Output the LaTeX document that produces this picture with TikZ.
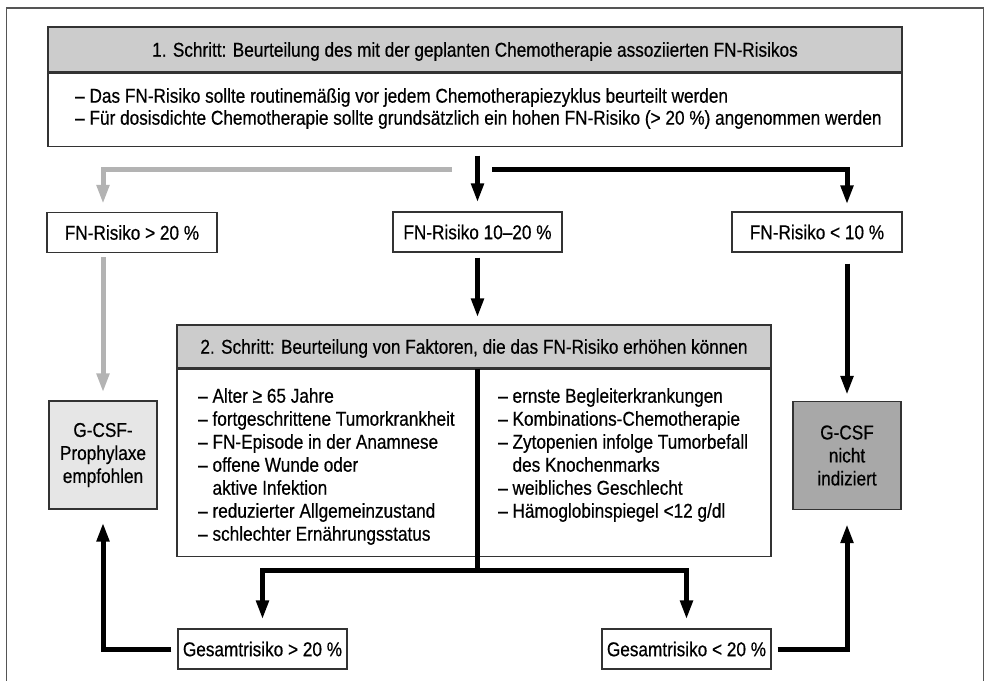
\documentclass[tikz,border=0pt]{standalone}
\usepackage{fontspec}
\setmainfont{Liberation Sans}[FakeStretch=0.86, FakeBold=0.5]
\usetikzlibrary{arrows.meta}

\definecolor{hdrgray}{HTML}{CCCCCC}
\definecolor{lightfill}{HTML}{E6E6E6}
\definecolor{darkfill}{HTML}{A8A8A8}
\definecolor{linegray}{HTML}{B3B3B3}
\definecolor{edge}{HTML}{333333}
\definecolor{framecol}{HTML}{555555}

\begin{document}
\begin{tikzpicture}[x=1pt,y=-1pt,
  txt/.style={font=\fontsize{20}{23}\selectfont},
  box/.style={txt, draw=edge, line width=1.1pt, fill=white, inner sep=0pt,
    text height=14.4pt, text depth=0pt},
  hdr/.style={box, fill=hdrgray},
  riskbox/.style={box, minimum width=169pt, minimum height=40pt},
  gcsf/.style={txt, draw=edge, line width=1.1pt, inner sep=0pt, align=center,
    minimum width=108pt, minimum height=108pt},
  listtxt/.style={txt, align=left, inner sep=0pt},
  conn/.style={line width=5pt},
  arr/.style={conn, -{Triangle[length=19pt,width=12pt]}},
  garr/.style={arr, draw=linegray},
  frame/.style={draw=framecol, line width=1.6pt}
]
\useasboundingbox (0,0) rectangle (990,680);

% outer frame
\draw[frame] (6.5,690) -- (6.5,8) -- (983.5,8) -- (983.5,690);

% step 1
\node[hdr, minimum width=854pt, minimum height=45pt] (s1h) at (475,49.5)
  {1. Schritt: Beurteilung des mit der geplanten Chemotherapie assoziierten FN-Risikos};
\node[box, anchor=north, minimum width=854pt, minimum height=73pt] (s1) at (s1h.south) {};
\node[listtxt, font=\fontsize{20}{22}\selectfont, anchor=north west] (s1t) at (75,88)
  {– Das FN-Risiko sollte routinemäßig vor jedem Chemotherapiezyklus beurteilt werden\\
   – Für dosisdichte Chemotherapie sollte grundsätzlich ein hohen FN-Risiko (> 20~\%) angenommen werden};

% risk classes
\node[riskbox, minimum width=170pt] (r1) at (132,232.5) {FN-Risiko > 20~\%};
\node[riskbox] (r2) at (477.5,232) {FN-Risiko 10–20~\%};
\node[riskbox, minimum width=170pt] (r3) at (817,232) {FN-Risiko < 10~\%};

% recommendations
\node[gcsf, fill=lightfill] (g1) at (103,455) {G-CSF-\\Prophylaxe\\empfohlen};
\node[gcsf, fill=darkfill] (g2) at (847,455.5) {G-CSF\\nicht\\indiziert};

% step 2
\node[hdr, minimum width=594pt, minimum height=43pt] (s2h) at (474,346.5)
  {2. Schritt: Beurteilung von Faktoren, die das FN-Risiko erhöhen können};
\node[box, anchor=north, minimum width=594pt, minimum height=187pt] (s2) at (s2h.south) {};
\node[listtxt, anchor=north west] (s2l) at (198,388)
  {– Alter ≥ 65 Jahre\\
   – fortgeschrittene Tumorkrankheit\\
   – FN-Episode in der Anamnese\\
   – offene Wunde oder\\
   \phantom{–~}aktive Infektion\\
   – reduzierter Allgemeinzustand\\
   – schlechter Ernährungsstatus};
\node[listtxt, anchor=north west] (s2r) at (498,388)
  {– ernste Begleiterkrankungen\\
   – Kombinations-Chemotherapie\\
   – Zytopenien infolge Tumorbefall\\
   \phantom{–~}des Knochenmarks\\
   – weibliches Geschlecht\\
   – Hämoglobinspiegel <12 g/dl};

% overall risk
\node[riskbox] (b1) at (262.5,649) {Gesamtrisiko > 20~\%};
\node[riskbox] (b2) at (686.5,649) {Gesamtrisiko < 20~\%};

% branch points
\coordinate (gsplit) at (452,169);
\coordinate (bsplit) at (492,169);
\coordinate (split) at (477.5,570);

% connectors from step 1
\draw[arr, shorten <=9pt, shorten >=9pt] (s1.south -| r2.north) -- (r2.north);
\draw[garr, shorten >=8pt] (gsplit) -| (g1.north |- r1.north);
\draw[arr, shorten >=7pt] (bsplit) -| (g2.north |- r3.north);

% connectors from the risk classes
\draw[garr, shorten <=4pt, shorten >=8pt] (r1.south -| g1.north) -- (g1.north);
\draw[arr, shorten <=5pt, shorten >=7pt] (r2.south) -- (s2h.north -| r2.south);
\draw[arr, shorten <=11pt, shorten >=6pt] (r3.south -| g2.north) -- (g2.north);

% divider of step 2 and its branches
\draw[conn] (s2h.south -| split) -- (split);
\draw[arr, shorten >=9pt] (split) -| (b1.north);
\draw[arr, shorten >=9pt] (split) -| (b2.north);

% connectors to the recommendations
\draw[arr, shorten <=6pt, shorten >=13pt] (b1.west) -| (g1.south);
\draw[arr, shorten <=6pt, shorten >=14pt] (b2.east) -| (g2.south);
\end{tikzpicture}
\end{document}
